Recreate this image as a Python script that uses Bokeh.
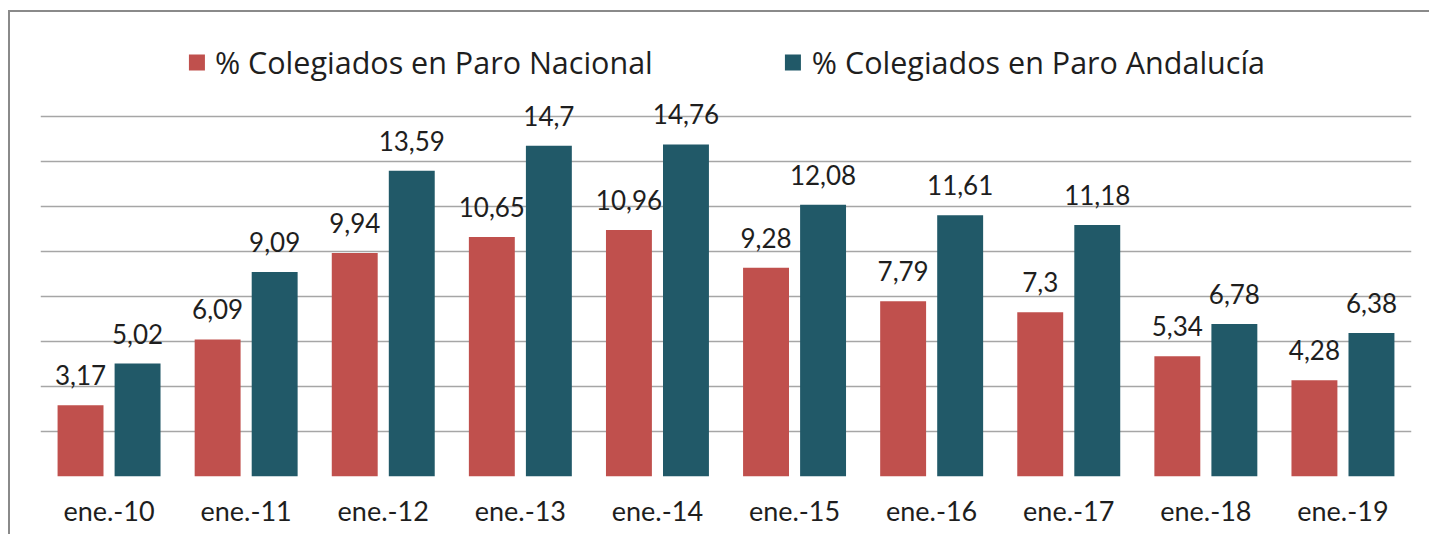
from bokeh.plotting import figure
from bokeh.models import ColumnDataSource, FactorRange, Range1d, FixedTicker, Legend, LegendItem
from bokeh.transform import dodge
from bokeh.core.properties import value
from bokeh.embed import file_html
from bokeh.resources import INLINE

categories = ["ene.-10", "ene.-11", "ene.-12", "ene.-13", "ene.-14",
              "ene.-15", "ene.-16", "ene.-17", "ene.-18", "ene.-19"]
nacional = [3.17, 6.09, 9.94, 10.65, 10.96, 9.28, 7.79, 7.3, 5.34, 4.28]
andalucia = [5.02, 9.09, 13.59, 14.7, 14.76, 12.08, 11.61, 11.18, 6.78, 6.38]
series_names = ["% Colegiados en Paro Nacional", "% Colegiados en Paro Andalucía"]
grid_ticks = [0, 2, 4, 6, 8, 10, 12, 14, 16]

RED = "#C0504D"
TEAL = "#215968"

def fmt(v):
    return str(v).replace(".", ",")

src = ColumnDataSource(dict(
    cat=categories,
    nac=nacional,
    and_=andalucia,
    nac_lbl=[fmt(v) for v in nacional],
    and_lbl=[fmt(v) for v in andalucia],
))

W, H = 1421, 524
p = figure(width=W, height=H, output_backend="svg", toolbar_location=None,
           x_range=FactorRange(*categories, range_padding=0),
           y_range=Range1d(0, 20.27),
           min_border_left=30, min_border_right=20, min_border_top=8, min_border_bottom=60)
p.styles = {"border-left": "2px solid #8a8a8a", "border-top": "2px solid #8a8a8a",
            "margin-top": "10px", "margin-left": "8px"}
p.outline_line_color = None
p.background_fill_color = "white"
p.border_fill_color = "white"

off = 0.208
bw = 0.335
r1 = p.vbar(x=dodge("cat", -off, range=p.x_range), top="nac", width=bw, source=src,
            fill_color=RED, line_color=None)
r2 = p.vbar(x=dodge("cat", off, range=p.x_range), top="and_", width=bw, source=src,
            fill_color=TEAL, line_color=None)

p.text(x=dodge("cat", -off, range=p.x_range), y="nac", text="nac_lbl", source=src,
       text_align="center", text_baseline="alphabetic", y_offset=-30,
       text_font=value("Lato"), text_font_size="26px", text_color="#1e1e1e")
p.text(x=dodge("cat", off, range=p.x_range), y="and_", text="and_lbl", source=src,
       text_align="center", text_baseline="alphabetic", y_offset=-30,
       text_font=value("Lato"), text_font_size="26px", text_color="#1e1e1e")

p.yaxis.visible = False
p.xgrid.grid_line_color = None
p.ygrid.ticker = FixedTicker(ticks=grid_ticks)
p.ygrid.grid_line_color = "#A6A6A6"
p.ygrid.grid_line_width = 1.5

xa = p.xaxis[0]
xa.axis_line_color = None
xa.major_tick_line_color = None
xa.minor_tick_line_color = None
xa.major_label_text_font = "Lato"
xa.major_label_text_font_size = "27px"
xa.major_label_text_color = "#1e1e1e"
xa.major_label_standoff = 11

legend = Legend(items=[LegendItem(label=series_names[0], renderers=[r1]),
                       LegendItem(label=series_names[1], renderers=[r2])],
                location="top_center", orientation="horizontal")
legend.label_text_font = "Open Sans"
legend.label_text_font_size = "30.5px"
legend.label_text_color = "#1e1e1e"
legend.glyph_width = 20
legend.glyph_height = 20
legend.label_standoff = 9
legend.spacing = 130
legend.padding = 0
legend.margin = 21
legend.border_line_color = None
legend.background_fill_alpha = 0
p.add_layout(legend)

open("out.html", "w").write(file_html(p, INLINE))
